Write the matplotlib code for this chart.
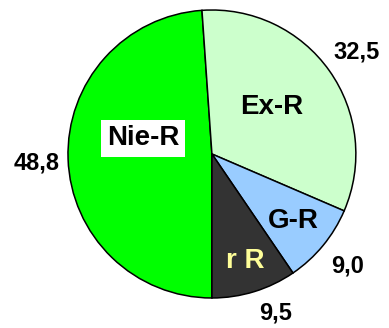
import numpy as np
import matplotlib.pyplot as plt

plt.rcParams['font.family'] = ['Liberation Sans', 'DejaVu Sans']

names = ["Nie-R", "Ex-R", "G-R", "r R"]
values = [48.8, 32.5, 9.0, 9.5]
value_text = ["48,8", "32,5", "9,0", "9,5"]
colors = ["#00ff00", "#ccffcc", "#99ccff", "#333333"]

# label placement: (radius, angle offset in degrees) relative to wedge middle
inner_pos = [(0.49, -15.0), (0.53, 2.5), (0.73, 0.0), (0.78, 0.0)]
outer_pos = [(1.22, 1.0), (1.23, 0.0), (1.22, 0.0), (1.19, 4.5)]
inner_color = ["black", "black", "black", "#ffff99"]

fig = plt.figure(figsize=(3.89, 3.28), dpi=100)
ax = fig.add_axes([0.1748, 0.0915, 0.740, 0.878])

wedges, _ = ax.pie(values, colors=colors, startangle=-90,
                   counterclock=False, radius=1.0,
                   wedgeprops=dict(edgecolor="black", linewidth=1.1))

for w, name, (r, off), c in zip(wedges, names, inner_pos, inner_color):
    mid = np.deg2rad((w.theta1 + w.theta2) / 2 + off)
    kw = dict(ha="center", va="center", fontsize=20, fontweight="bold", color=c)
    if name == "Nie-R":
        kw["bbox"] = dict(facecolor="white", edgecolor="none", pad=4)
    ax.text(r * np.cos(mid), r * np.sin(mid), name, **kw)

for w, txt, (r, off) in zip(wedges, value_text, outer_pos):
    mid = np.deg2rad((w.theta1 + w.theta2) / 2 + off)
    ax.text(r * np.cos(mid), r * np.sin(mid), txt, ha="center", va="center",
            fontsize=17, fontweight="bold")

ax.set_xlim(-1, 1)
ax.set_ylim(-1, 1)
ax.set_aspect("auto")
ax.axis("off")

fig.savefig("out.png", dpi=100)
